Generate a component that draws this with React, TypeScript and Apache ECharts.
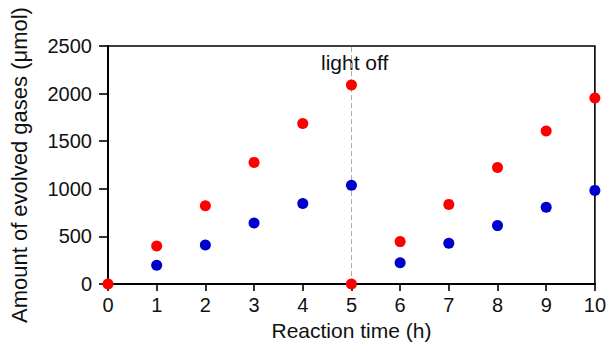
import React, { useEffect, useRef } from "react";
import * as echarts from "echarts";

const xTicks = [0, 1, 2, 3, 4, 5, 6, 7, 8, 9, 10];
const redTimes = [0, 1, 2, 3, 4, 5, 5, 6, 7, 8, 9, 10];
const redValues = [0, 401, 823, 1278, 1687, 2090, 0, 446, 837, 1224, 1608, 1955];
const blueTimes = [1, 2, 3, 4, 5, 6, 7, 8, 9, 10];
const blueValues = [197, 411, 641, 847, 1039, 223, 429, 614, 806, 984];
const lightOffTime = 5;

export default function App() {
  const ref = useRef<HTMLDivElement>(null);
  useEffect(() => {
    if (!ref.current) return;
    document.body.style.margin = "0";
    const chart = echarts.init(ref.current, null, { renderer: "svg" });
    const font = "Liberation Sans, Arial, sans-serif";
    chart.setOption({
      animation: false,
      grid: { left: 107, right: 11, top: 46, bottom: 57, show: true, borderColor: "#000", borderWidth: 1.6, backgroundColor: "transparent" },
      xAxis: {
        type: "value",
        min: 0,
        max: 10,
        interval: 1,
        name: "Reaction time (h)",
        nameLocation: "middle",
        nameGap: 34,
        nameTextStyle: { fontSize: 21, color: "#111", fontFamily: font },
        axisLine: { lineStyle: { color: "#000", width: 2 } },
        axisTick: { show: true, length: 7, lineStyle: { color: "#000", width: 1.6 } },
        axisLabel: { fontSize: 20, color: "#111", margin: 11, fontFamily: font, formatter: (v: number) => String(v) },
        splitLine: { show: false },
      },
      yAxis: {
        type: "value",
        min: 0,
        max: 2500,
        interval: 500,
        name: "Amount of evolved gases (μmol)",
        nameLocation: "middle",
        nameGap: 78,
        nameTextStyle: { fontSize: 22, color: "#111", fontFamily: font },
        axisLine: { show: true, lineStyle: { color: "#000", width: 2 } },
        axisTick: { show: true, length: 9, lineStyle: { color: "#000", width: 1.6 } },
        axisLabel: { fontSize: 20, color: "#111", margin: 16, fontFamily: font, formatter: (v: number) => String(v) },
        splitLine: { show: false },
      },
      series: [
        {
          type: "scatter",
          symbolSize: 11,
          itemStyle: { color: "#0000cc", opacity: 1 },
          data: blueTimes.map((t, i) => [t, blueValues[i]]),
          z: 3,
        },
        {
          type: "scatter",
          symbolSize: 11,
          itemStyle: { color: "#ff0000", opacity: 1 },
          data: redTimes.map((t, i) => [t, redValues[i]]),
          z: 4,
          markLine: {
            silent: true,
            symbol: "none",
            lineStyle: { color: "#aaa", type: [5, 3], width: 1 },
            label: { show: false },
            data: [{ xAxis: lightOffTime }],
            z: 1,
          },
        },
      ],
      graphic: [
        {
          type: "text",
          left: 321,
          top: 52,
          style: { text: "light off", fontSize: 21, fill: "#111", fontFamily: font },
        },
      ],
    });
    return () => chart.dispose();
  }, []);
  return <div ref={ref} style={{ width: 609, height: 346 }} />;
}
